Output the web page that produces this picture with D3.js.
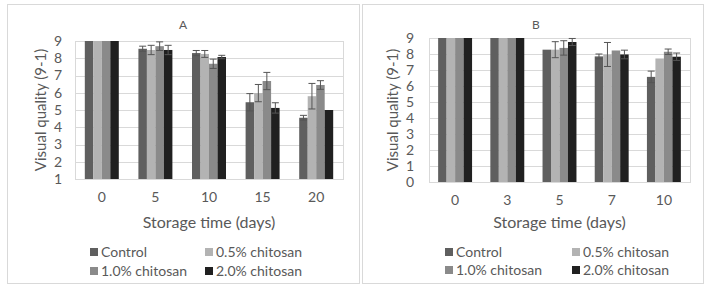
<!DOCTYPE html>
<html><head><meta charset="utf-8">
<script src="https://cdn.jsdelivr.net/npm/d3@7"></script>
<style>body{margin:0;background:#fff}svg{display:block}text{font-family:Lato,"Open Sans",sans-serif;fill:#595959}</style>
</head><body><svg id="c" width="709" height="288"></svg>
<script>
const seriesNames = ["Control","0.5% chitosan","1.0% chitosan","2.0% chitosan"];
const seriesColors = ["#5f5f5f","#b3b3b3","#8a8a8a","#202020"];

const daysA = ["0","5","10","15","20"];
const controlA = [9, 8.55, 8.3, 5.45, 4.55];
const c05A     = [9, 8.48, 8.25, 5.98, 5.8];
const c10A     = [9, 8.7, 7.68, 6.68, 6.45];
const c20A     = [9, 8.48, 8.07, 5.12, 5.0];
const errControlA = [0, 0.15, 0.15, 0.5, 0.14];
const err05A      = [0, 0.27, 0.2, 0.5, 0.74];
const err10A      = [0, 0.25, 0.27, 0.5, 0.25];
const err20A      = [0, 0.27, 0.1, 0.3, 0];
const ticksA = [1,2,3,4,5,6,7,8,9];

const daysB = ["0","3","5","7","10"];
const controlB = [9, 9, 8.27, 7.85, 6.57];
const c05B     = [9, 9, 8.27, 7.97, 7.72];
const c10B     = [9, 9, 8.38, 8.22, 8.14];
const c20B     = [9, 9, 8.75, 7.97, 7.83];
const errControlB = [0, 0, 0, 0.15, 0.36];
const err05B      = [0, 0, 0.5, 0.75, 0];
const err10B      = [0, 0, 0.45, 0, 0.17];
const err20B      = [0, 0, 0.22, 0.27, 0.23];
const ticksB = [0,1,2,3,4,5,6,7,8,9];

const svg = d3.select("#c");

function panel(cfg){
  const g = svg.append("g");
  g.append("rect").attr("x",cfg.frame[0]+0.5).attr("y",cfg.frame[1]+0.5)
    .attr("width",cfg.frame[2]).attr("height",cfg.frame[3])
    .attr("fill","#fff").attr("stroke","#d9d9d9").attr("stroke-width",1);
  const x = d3.scaleBand().domain(cfg.days).range([cfg.x0,cfg.x1]).paddingInner(cfg.pad).paddingOuter(cfg.pad/2);
  const xs = d3.scaleBand().domain(seriesNames).range([0,x.bandwidth()]);
  const y = d3.scaleLinear().domain(cfg.ydom).range([cfg.y1,cfg.y0]);
  g.append("g").selectAll("line").data(cfg.ticks).join("line")
    .attr("x1",cfg.x0).attr("x2",cfg.x1)
    .attr("y1",d=>Math.round(y(d))+0.5).attr("y2",d=>Math.round(y(d))+0.5)
    .attr("stroke","#d9d9d9");
  g.append("rect").attr("x",cfg.x0+0.5).attr("y",Math.round(y(cfg.ydom[1]))+0.5)
    .attr("width",cfg.x1-cfg.x0).attr("height",Math.round(y(cfg.ydom[0]))-Math.round(y(cfg.ydom[1])))
    .attr("fill","none").attr("stroke","#d9d9d9");
  const series = cfg.values.map((vals,i)=>vals.map((v,j)=>({day:cfg.days[j],v,e:cfg.errs[i][j],s:seriesNames[i],c:seriesColors[i]})));
  series.forEach(arr=>{
    g.append("g").selectAll("rect").data(arr).join("rect")
      .attr("x",d=>x(d.day)+xs(d.s)).attr("width",xs.bandwidth())
      .attr("y",d=>y(d.v)).attr("height",d=>y(cfg.ydom[0])-y(d.v))
      .attr("fill",d=>d.c);
  });
  series.forEach(arr=>{
    const eg = g.append("g").selectAll("g").data(arr.filter(d=>d.e>0)).join("g")
      .attr("stroke","#555").attr("stroke-width",1);
    const cx = d=>x(d.day)+xs(d.s)+xs.bandwidth()/2;
    eg.append("line").attr("x1",cx).attr("x2",cx).attr("y1",d=>y(d.v+d.e)).attr("y2",d=>y(d.v-d.e));
    eg.append("line").attr("x1",d=>cx(d)-3.5).attr("x2",d=>cx(d)+3.5).attr("y1",d=>y(d.v+d.e)).attr("y2",d=>y(d.v+d.e));
    eg.append("line").attr("x1",d=>cx(d)-3.5).attr("x2",d=>cx(d)+3.5).attr("y1",d=>y(d.v-d.e)).attr("y2",d=>y(d.v-d.e));
  });
  const ya = d3.axisLeft(y).tickValues(cfg.ticks).tickSize(0).tickPadding(0).tickFormat(d3.format("d"));
  const yg = g.append("g").attr("transform",`translate(${cfg.ylabX},0)`).call(ya);
  yg.select(".domain").remove();
  yg.selectAll("text").attr("font-size",14).style("fill","#595959");
  const xa = d3.axisBottom(x).tickSize(0).tickPadding(0);
  const xg = g.append("g").attr("transform",`translate(0,${cfg.xlabY})`).call(xa);
  xg.select(".domain").remove();
  xg.selectAll("text").attr("font-size",14).attr("dy","0.35em").attr("y",0).style("fill","#595959");
  g.append("text").attr("x",cfg.titleX).attr("y",cfg.titleY).attr("text-anchor","middle").attr("font-size",12).text(cfg.title);
  g.append("text").attr("x",(cfg.x0+cfg.x1)/2).attr("y",cfg.xtitleY).attr("text-anchor","middle").attr("font-size",16).text("Storage time (days)");
  g.append("text").attr("transform",`translate(${cfg.ytitleX},${(cfg.y0+cfg.y1)/2}) rotate(-90)`).attr("text-anchor","middle").attr("dy","0.35em").attr("font-size",15).text("Visual quality (9-1)");
  seriesNames.forEach((n,i)=>{
    const lx = cfg.legX[i%2], ly = cfg.legY[Math.floor(i/2)];
    g.append("rect").attr("x",lx).attr("y",ly-4).attr("width",8).attr("height",8).attr("fill",seriesColors[i]);
    g.append("text").attr("x",lx+11).attr("y",ly).attr("dy","0.35em").attr("font-size",14).text(n);
  });
}

panel({frame:[7,4,352,279], days:daysA, values:[controlA,c05A,c10A,c20A], errs:[errControlA,err05A,err10A,err20A],
  x0:75,x1:343,pad:0.366,y0:41,y1:179,ydom:[1,9],ticks:ticksA,ylabX:62,xlabY:197,title:"A",titleX:183,titleY:29,
  xtitleY:228,ytitleX:41,legX:[90,205],legY:[252,271]});
panel({frame:[362,4,341,279], days:daysB, values:[controlB,c05B,c10B,c20B], errs:[errControlB,err05B,err10B,err20B],
  x0:429,x1:690,pad:0.35,y0:38,y1:182,ydom:[0,9],ticks:ticksB,ylabX:414,xlabY:200,title:"B",titleX:536,titleY:29,
  xtitleY:228,ytitleX:393,legX:[445,572],legY:[252,270]});
</script></body></html>
